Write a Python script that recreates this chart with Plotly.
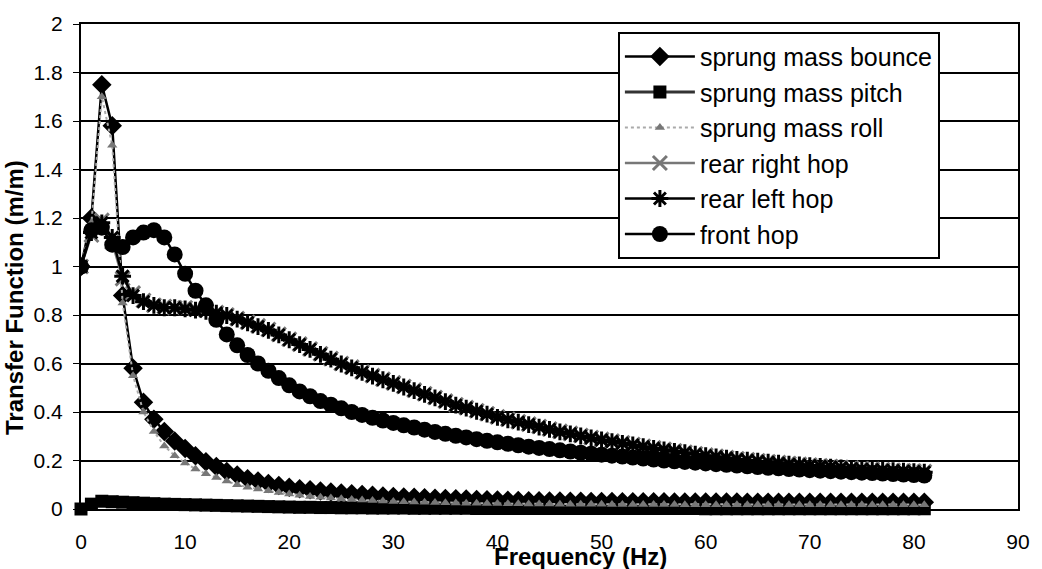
import plotly.graph_objects as go

freq = list(range(82))

bounce = [1.00, 1.20, 1.75, 1.58, 0.88, 0.58, 0.44, 0.37, 0.32, 0.28,
          0.25, 0.22, 0.195, 0.175, 0.155, 0.14, 0.125, 0.115, 0.105, 0.097,
          0.09, 0.084, 0.079, 0.074, 0.07, 0.066, 0.063, 0.06, 0.057, 0.054,
          0.052, 0.05, 0.048, 0.046, 0.044, 0.043, 0.042, 0.041, 0.039, 0.038,
          0.037, 0.036, 0.035, 0.034, 0.034, 0.033, 0.033, 0.032, 0.032, 0.031,
          0.031, 0.031, 0.030, 0.030, 0.030, 0.030, 0.030, 0.029, 0.029, 0.029,
          0.029, 0.029, 0.029, 0.029, 0.028, 0.028, 0.028, 0.028, 0.028, 0.028,
          0.028, 0.028, 0.028, 0.028, 0.028, 0.028, 0.028, 0.028, 0.028, 0.028,
          0.028, 0.028]

pitch = [0.0, 0.02, 0.032, 0.03, 0.028, 0.026, 0.024, 0.022, 0.02, 0.019,
         0.018, 0.017, 0.016, 0.015, 0.014, 0.013, 0.012, 0.011, 0.01, 0.009,
         0.008, 0.007, 0.007, 0.006, 0.006, 0.005, 0.005, 0.005, 0.004, 0.004,
         0.004, 0.004, 0.003, 0.003, 0.003, 0.003, 0.003, 0.003, 0.002, 0.002,
         0.002, 0.002, 0.002, 0.002, 0.002, 0.002, 0.002, 0.002, 0.002, 0.002,
         0.002, 0.002, 0.002, 0.002, 0.002, 0.002, 0.002, 0.002, 0.002, 0.002,
         0.001, 0.001, 0.001, 0.001, 0.001, 0.001, 0.001, 0.001, 0.001, 0.001,
         0.001, 0.001, 0.001, 0.001, 0.001, 0.001, 0.001, 0.001, 0.001, 0.001,
         0.001, 0.001]

roll = [1.00, 1.18, 1.70, 1.50, 0.85, 0.55, 0.40, 0.32, 0.26, 0.22,
        0.19, 0.165, 0.145, 0.13, 0.115, 0.10, 0.09, 0.082, 0.075, 0.068,
        0.062, 0.057, 0.052, 0.048, 0.045, 0.042, 0.039, 0.037, 0.035, 0.033,
        0.031, 0.030, 0.029, 0.028, 0.027, 0.026, 0.025, 0.024, 0.024, 0.023,
        0.023, 0.022, 0.022, 0.021, 0.021, 0.021, 0.020, 0.020, 0.020, 0.020,
        0.020, 0.019, 0.019, 0.019, 0.019, 0.019, 0.019, 0.019, 0.018, 0.018,
        0.018, 0.018, 0.018, 0.018, 0.018, 0.018, 0.018, 0.018, 0.018, 0.018,
        0.018, 0.018, 0.018, 0.018, 0.018, 0.018, 0.018, 0.018, 0.018, 0.018,
        0.018, 0.018]

rear_right = [1.00, 1.13, 1.19, 1.10, 0.95, 0.89, 0.86, 0.84, 0.835, 0.83,
              0.83, 0.825, 0.82, 0.81, 0.80, 0.785, 0.77, 0.755, 0.74, 0.72,
              0.70, 0.68, 0.66, 0.64, 0.62, 0.60, 0.585, 0.565, 0.55, 0.535,
              0.52, 0.505, 0.49, 0.475, 0.46, 0.445, 0.43, 0.418, 0.405, 0.393,
              0.38, 0.37, 0.36, 0.35, 0.34, 0.33, 0.32, 0.312, 0.303, 0.295,
              0.287, 0.28, 0.273, 0.266, 0.259, 0.252, 0.246, 0.24, 0.234, 0.228,
              0.222, 0.217, 0.212, 0.207, 0.203, 0.199, 0.195, 0.191, 0.187, 0.184,
              0.181, 0.178, 0.175, 0.172, 0.169, 0.166, 0.164, 0.162, 0.16, 0.158,
              0.156, 0.154]

rear_left = [1.00, 1.14, 1.18, 1.12, 0.96, 0.88, 0.855, 0.84, 0.83, 0.83,
             0.825, 0.82, 0.815, 0.808, 0.798, 0.783, 0.768, 0.752, 0.737, 0.718,
             0.698, 0.678, 0.658, 0.638, 0.618, 0.598, 0.582, 0.563, 0.548, 0.533,
             0.518, 0.503, 0.488, 0.473, 0.458, 0.443, 0.428, 0.416, 0.403, 0.391,
             0.378, 0.368, 0.358, 0.348, 0.338, 0.328, 0.318, 0.31, 0.301, 0.293,
             0.285, 0.278, 0.271, 0.264, 0.257, 0.25, 0.244, 0.238, 0.232, 0.226,
             0.22, 0.215, 0.21, 0.205, 0.201, 0.197, 0.193, 0.189, 0.185, 0.182,
             0.179, 0.176, 0.173, 0.17, 0.167, 0.164, 0.162, 0.16, 0.158, 0.156,
             0.154, 0.152]

front = [1.00, 1.15, 1.16, 1.09, 1.08, 1.12, 1.14, 1.15, 1.12, 1.05,
         0.97, 0.90, 0.84, 0.78, 0.72, 0.675, 0.635, 0.60, 0.57, 0.54,
         0.51, 0.485, 0.465, 0.445, 0.43, 0.415, 0.40, 0.388, 0.376, 0.365,
         0.355, 0.345, 0.336, 0.327, 0.318, 0.31, 0.302, 0.295, 0.288, 0.281,
         0.275, 0.269, 0.263, 0.257, 0.252, 0.247, 0.242, 0.237, 0.232, 0.228,
         0.224, 0.22, 0.216, 0.212, 0.208, 0.204, 0.2, 0.197, 0.194, 0.191,
         0.188, 0.185, 0.182, 0.179, 0.176, 0.173, 0.17, 0.168, 0.165, 0.163,
         0.16, 0.158, 0.156, 0.154, 0.152, 0.15, 0.148, 0.146, 0.144, 0.142,
         0.14, 0.138]

series_names = ["sprung mass bounce", "sprung mass pitch", "sprung mass roll",
                "rear right hop", "rear left hop", "front hop"]
x_ticks = [0, 10, 20, 30, 40, 50, 60, 70, 80, 90]
y_ticks = [0, 0.2, 0.4, 0.6, 0.8, 1, 1.2, 1.4, 1.6, 1.8, 2]

FONT = "Liberation Sans, Arial, sans-serif"

fig = go.Figure()
fig.add_trace(go.Scatter(x=freq, y=bounce, name=series_names[0], mode="lines+markers",
                         line=dict(color="black", width=2.5),
                         marker=dict(symbol="diamond", size=15, color="black")))
fig.add_trace(go.Scatter(x=freq, y=pitch, name=series_names[1], mode="lines+markers",
                         line=dict(color="#333", width=3), cliponaxis=False,
                         marker=dict(symbol="square", size=13, color="black")))
fig.add_trace(go.Scatter(x=freq, y=roll, name=series_names[2], mode="lines+markers",
                         line=dict(color="#aaa", width=2, dash="dot"),
                         marker=dict(symbol="triangle-up", size=9, color="#777")))
fig.add_trace(go.Scatter(x=freq, y=rear_right, name=series_names[3], mode="lines+markers",
                         line=dict(color="#777", width=2.5),
                         marker=dict(symbol="x-thin-open", size=14,
                                     line=dict(color="black", width=3))))
fig.add_trace(go.Scatter(x=freq, y=rear_left, name=series_names[4], mode="lines+markers",
                         line=dict(color="black", width=2.5),
                         marker=dict(symbol="asterisk-open", size=14,
                                     line=dict(color="black", width=3))))
fig.add_trace(go.Scatter(x=freq, y=front, name=series_names[5], mode="lines+markers",
                         line=dict(color="black", width=2.5),
                         marker=dict(symbol="circle", size=16, color="black")))

fig.update_layout(
    width=1042, height=569,
    margin=dict(l=81, r=19, t=18, b=60),
    paper_bgcolor="white", plot_bgcolor="white",
    font=dict(family=FONT, color="black", size=21),
    showlegend=True,
    legend=dict(x=0.573, y=0.984, xanchor="left", yanchor="top",
                bgcolor="white", bordercolor="black", borderwidth=2,
                font=dict(family=FONT, size=25, color="black"),
                itemwidth=70, tracegroupgap=0),
    xaxis=dict(range=[0, 90], tickvals=x_ticks, ticktext=[str(v) for v in x_ticks],
               showgrid=False, zeroline=False, showline=True, linecolor="black",
               linewidth=2, mirror=True, ticks="", ticklabelstandoff=13,
               tickfont=dict(family=FONT, size=21, color="black")),
    yaxis=dict(range=[0, 2], tickvals=y_ticks, ticktext=[f"{v:g}" for v in y_ticks],
               showgrid=True, gridcolor="black", gridwidth=1.5, zeroline=False,
               showline=True, linecolor="black", linewidth=2, mirror=True,
               ticks="outside", ticklen=6, tickcolor="black", ticklabelstandoff=6,
               tickfont=dict(family=FONT, size=21, color="black")),
    annotations=[
        dict(text="<b>Frequency (Hz)</b>", xref="paper", yref="paper",
             x=(583 - 81) / 942, y=(509 - 557) / 491, xanchor="center", yanchor="middle",
             showarrow=False, font=dict(family=FONT, size=24, color="black")),
        dict(text="<b>Transfer Function (m/m)</b>", xref="paper", yref="paper",
             x=(14 - 81) / 942, y=(509 - 295) / 491, xanchor="center", yanchor="middle",
             textangle=-90, showarrow=False, font=dict(family=FONT, size=24, color="black")),
    ],
)

fig.write_html("out.html")
